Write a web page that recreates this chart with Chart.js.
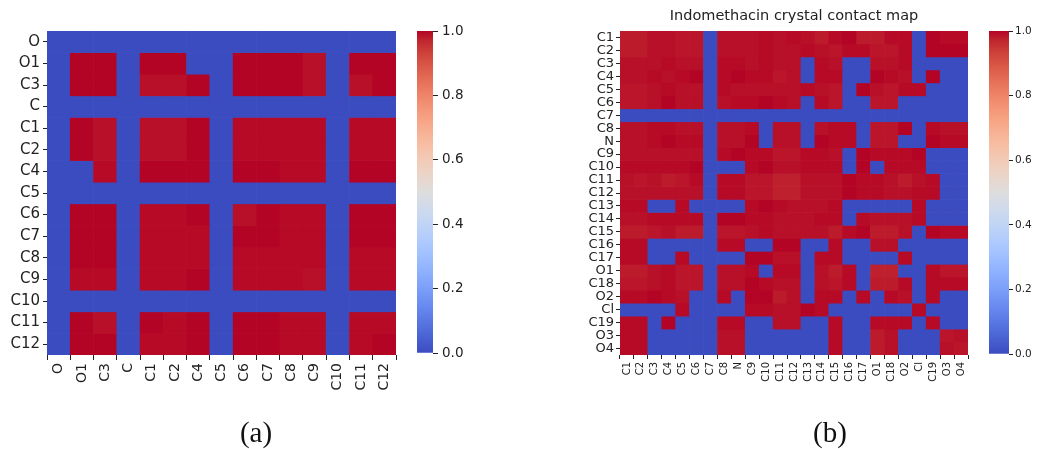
<!DOCTYPE html>
<html>
<head>
<meta charset="utf-8">
<script src="https://cdn.jsdelivr.net/npm/chart.js@4/dist/chart.umd.min.js"></script>
<style>
  html, body { margin: 0; padding: 0; background: #fff; }
  body { width: 1037px; height: 449px; overflow: hidden; position: relative; }
  canvas { position: absolute; }
  .cap { position: absolute; width: 80px; text-align: center; line-height: 1;
         font-family: "Liberation Serif", "DejaVu Serif", serif; font-size: 29px; color: #111; }
</style>
</head>
<body>
<canvas id="heatA" width="410" height="420" style="left:0;top:0"></canvas>
<canvas id="barA" width="60" height="370" style="left:417px;top:0"></canvas>
<canvas id="heatB" width="422" height="420" style="left:560px;top:0"></canvas>
<canvas id="barB" width="48" height="370" style="left:989px;top:0"></canvas>
<div class="cap" style="left:216px;top:418px">(a)</div>
<div class="cap" style="left:790px;top:418px">(b)</div>
<script>
// ---- atom labels (rows and columns share the same order) ----
const atomsA = ['O', 'O1', 'C3', 'C', 'C1', 'C2', 'C4', 'C5', 'C6', 'C7', 'C8', 'C9', 'C10', 'C11', 'C12'];
const atomsB = ['C1', 'C2', 'C3', 'C4', 'C5', 'C6', 'C7', 'C8', 'N', 'C9', 'C10', 'C11', 'C12',
                'C13', 'C14', 'C15', 'C16', 'C17', 'O1', 'C18', 'O2', 'Cl', 'C19', 'O3', 'O4'];

// ---- contact frequencies, one array per row ----
const contactA = [
  [0, 0, 0, 0, 0, 0, 0, 0, 0, 0, 0, 0, 0, 0, 0],
  [0, 1.0, 1.0, 0, 1.0, 1.0, 0, 0, 1.0, 1.0, 1.0, 0.99, 0, 1.0, 1.0],
  [0, 1.0, 1.0, 0, 0.99, 0.99, 1.0, 0, 1.0, 1.0, 1.0, 0.99, 0, 0.99, 1.0],
  [0, 0, 0, 0, 0, 0, 0, 0, 0, 0, 0, 0, 0, 0, 0],
  [0, 1.0, 0.99, 0, 0.99, 0.99, 1.0, 0, 0.995, 0.995, 0.995, 0.995, 0, 0.995, 0.995],
  [0, 1.0, 0.99, 0, 0.99, 0.99, 1.0, 0, 0.995, 0.995, 0.995, 0.995, 0, 0.995, 0.995],
  [0, 0, 0.995, 0, 1.0, 1.0, 1.0, 0, 1.0, 1.0, 0.995, 0.995, 0, 1.0, 1.0],
  [0, 0, 0, 0, 0, 0, 0, 0, 0, 0, 0, 0, 0, 0, 0],
  [0, 1.0, 1.0, 0, 0.995, 0.995, 1.0, 0, 0.99, 1.0, 0.995, 0.995, 0, 1.0, 1.0],
  [0, 1.0, 1.0, 0, 0.995, 0.995, 0.995, 0, 1.0, 1.0, 0.995, 0.995, 0, 1.0, 1.0],
  [0, 1.0, 1.0, 0, 0.995, 0.995, 0.995, 0, 0.995, 0.995, 0.995, 0.995, 0, 0.995, 0.995],
  [0, 0.995, 0.995, 0, 0.995, 0.995, 1.0, 0, 0.995, 0.995, 0.995, 0.99, 0, 0.995, 0.995],
  [0, 0, 0, 0, 0, 0, 0, 0, 0, 0, 0, 0, 0, 0, 0],
  [0, 1.0, 0.99, 0, 1.0, 0.995, 1.0, 0, 1.0, 1.0, 0.995, 0.995, 0, 0.995, 0.995],
  [0, 1.0, 1.0, 0, 0.995, 0.995, 1.0, 0, 1.0, 1.0, 0.995, 0.995, 0, 0.995, 1.0]
];

const contactB = [
  [.98,.98,.99,.99,.985,.985,0,.99,.99,.99,.995,.99,.995,.99,.98,.995,1,.98,.98,.995,.995,0,1,.995,.995],
  [.98,.98,.99,.99,.985,.985,0,.99,.99,.99,.995,.99,.99,.995,.99,.985,.995,.995,.985,.985,.995,0,1,1,1],
  [.99,.99,.99,.995,.99,.99,0,.995,.995,.99,.995,.99,.99,0,.995,.99,0,0,.99,.99,.995,0,0,0,0],
  [.99,.99,.995,.99,.995,1,0,.995,1,.995,.995,.985,.99,0,.995,.995,0,0,1,.995,.99,0,1,0,0],
  [.985,.985,.99,.995,.99,.99,0,.995,.99,.99,.99,.99,.99,.995,.99,.985,0,1,.99,.985,.995,.995,0,0,0],
  [.985,.985,.99,1,.99,.99,0,.99,.995,.995,1,.995,.99,0,.995,.985,0,0,.985,.985,0,0,0,0,0],
  [0,0,0,0,0,0,0,0,0,0,0,0,0,0,0,0,0,0,0,0,0,0,0,0,0],
  [.99,.99,.995,.995,.99,.99,0,.99,.99,.995,0,.99,.99,0,.99,.995,.995,0,.985,.985,1,0,.995,.99,.99],
  [.99,.99,.995,1,.995,.995,0,.99,.99,1,0,.99,.99,0,1,.995,.995,0,.985,.985,0,0,1,.995,.995],
  [.99,.99,.99,.99,.99,.99,0,.995,1,.995,.995,.985,.985,.995,.995,.99,0,1,.995,.995,.995,1,0,0,0],
  [.995,.995,.995,.995,.995,1,0,0,0,.995,1,.99,.99,.995,.995,.995,0,1,0,.995,.995,.995,0,0,0],
  [.99,.985,.99,.98,.985,.995,0,.995,.995,.985,.985,.975,.975,.99,.99,.99,1,.995,.995,.99,.98,.99,.995,0,0],
  [.99,.99,.99,.99,.99,.99,0,.995,.995,.985,.985,.975,.975,.99,.99,.99,1,.995,.995,.99,.99,.995,.995,0,0],
  [.995,.995,0,0,.995,0,0,0,0,.995,1,.995,.99,.99,.99,.995,0,0,0,0,0,.995,0,0,0],
  [.99,.99,.995,.995,.995,.995,0,1,1,.995,.995,.99,.99,.99,.995,.995,0,.995,.99,.99,.99,.995,0,0,0],
  [.98,.98,.985,.99,.98,.98,0,.985,.985,.99,.995,.99,.99,.99,.99,.98,.995,1,.98,.98,.99,0,1,.995,.995],
  [.995,.995,0,0,0,0,0,.995,.995,0,0,1,1,0,0,.995,0,0,.99,.99,0,0,0,0,0],
  [.995,.995,0,0,.995,0,0,0,0,1,1,.99,.99,0,.995,.995,0,0,0,0,.995,0,0,0,0],
  [.98,.98,.99,.995,.985,.985,0,.99,.99,.995,0,.995,.995,0,.99,.98,.995,0,.975,.975,0,0,.995,.985,.985],
  [.985,.985,.99,.995,.985,.985,0,.99,.99,1,.995,.99,.99,0,.99,.985,.995,0,.98,.98,.995,0,.995,.995,.995],
  [.995,.995,1,.995,.99,0,0,.995,0,1,1,.98,.99,0,.995,.995,0,.995,0,.995,.99,0,.995,0,0],
  [0,0,0,0,.995,0,0,0,0,.995,.995,.99,.99,1,.995,0,0,0,0,0,0,.995,0,0,0],
  [.995,.995,0,1,0,0,0,.995,.995,0,0,.99,.99,0,0,.995,0,0,.995,.995,.995,0,.995,0,0],
  [.995,.995,0,0,0,0,0,.99,.99,0,0,0,0,0,0,.995,0,0,.98,.99,0,0,0,.985,.99],
  [.995,.995,0,0,0,0,0,.99,.99,0,0,0,0,0,0,.995,0,0,.98,.99,0,0,0,.99,.985]
];

// colour bar tick values
const colorbarTicks = [0, 0.2, 0.4, 0.6, 0.8, 1.0];

// ---- coolwarm colour map (Moreland diverging) ----
const COOLWARM = [
  [59,76,192],[68,90,204],[77,104,215],[87,117,225],[98,130,234],[108,142,241],[119,154,247],
  [130,165,251],[141,176,254],[152,185,255],[163,194,255],[174,201,253],[184,208,249],
  [194,213,244],[204,217,238],[213,219,230],[221,221,221],[229,216,209],[236,211,197],
  [241,204,185],[245,196,173],[247,187,160],[247,177,148],[247,166,135],[244,154,123],
  [241,141,111],[236,127,99],[229,112,88],[222,96,77],[213,80,66],[203,62,56],[192,40,47],[180,4,38]
];
function coolwarm(v) {
  const t = Math.max(0, Math.min(1, v)) * (COOLWARM.length - 1);
  const i = Math.min(Math.floor(t), COOLWARM.length - 2);
  const f = t - i, a = COOLWARM[i], b = COOLWARM[i + 1];
  const c = a.map((x, k) => Math.round(x + (b[k] - x) * f));
  return `rgb(${c[0]},${c[1]},${c[2]})`;
}

const FONT = 'DejaVu Sans';
const INK = '#222';

function tickGrid(len) {
  return { display: true, drawOnChartArea: false, drawTicks: true, tickLength: len, tickColor: INK, tickWidth: 1 };
}

// One floating bar per cell: each row is a dataset spanning [row-0.5, row+0.5] on the value axis.
function heatmap(id, labels, values, o) {
  const datasets = values.map((row, i) => ({
    label: labels[i],
    data: row.map(() => [i - 0.5, i + 0.5]),
    backgroundColor: row.map(v => coolwarm(v)),
    borderWidth: 0,
    barPercentage: 1,
    categoryPercentage: 1,
    grouped: false
  }));
  return new Chart(document.getElementById(id), {
    type: 'bar',
    data: { labels, datasets },
    options: {
      responsive: false,
      animation: false,
      layout: { padding: { top: o.padTop, right: o.padRight, bottom: 0, left: 0 } },
      plugins: {
        legend: { display: false },
        tooltip: { enabled: false },
        title: o.title ? {
          display: true, text: o.title, fullSize: false, color: INK,
          font: { family: FONT, size: o.titleSize, weight: 'normal' },
          padding: { top: 8, bottom: 5.6 }
        } : { display: false }
      },
      scales: {
        x: {
          type: 'category',
          offset: true,
          border: { display: false },
          grid: tickGrid(o.xTick),
          ticks: { autoSkip: false, minRotation: 90, maxRotation: 90, padding: o.xPad, color: INK,
                   font: { family: FONT, size: o.xFont } },
          afterFit: s => { s.height = o.xHeight; }
        },
        y: {
          type: 'linear',
          reverse: true,
          min: -0.5,
          max: labels.length - 0.5,
          border: { display: false },
          grid: tickGrid(o.yTick),
          afterBuildTicks: s => { s.ticks = labels.map((_, i) => ({ value: i })); },
          ticks: { autoSkip: false, padding: o.yPad, color: INK,
                   font: { family: FONT, size: o.yFont },
                   callback: v => labels[v] },
          afterFit: s => { s.width = o.yWidth; }
        }
      }
    }
  });
}

function colorbar(id, o) {
  return new Chart(document.getElementById(id), {
    type: 'bar',
    data: {
      labels: [''],
      datasets: [{
        data: [[colorbarTicks[0], colorbarTicks[colorbarTicks.length - 1]]],
        borderWidth: 0,
        barPercentage: 1,
        categoryPercentage: 1,
        backgroundColor: ctx => {
          const chart = ctx.chart, y = chart.scales.y;
          if (!chart.chartArea || !y) return coolwarm(0.5);
          const g = chart.ctx.createLinearGradient(0, y.getPixelForValue(0), 0, y.getPixelForValue(1));
          COOLWARM.forEach((c, i) => g.addColorStop(i / (COOLWARM.length - 1), `rgb(${c[0]},${c[1]},${c[2]})`));
          return g;
        }
      }]
    },
    options: {
      responsive: false,
      animation: false,
      layout: { padding: { top: o.top, bottom: o.bottom, left: 0, right: 0 } },
      plugins: { legend: { display: false }, tooltip: { enabled: false } },
      scales: {
        x: { display: false },
        y: {
          position: 'right',
          min: 0, max: 1,
          border: { display: false },
          grid: tickGrid(o.tick),
          afterBuildTicks: s => { s.ticks = colorbarTicks.map(v => ({ value: v })); },
          ticks: { padding: o.pad, color: INK, font: { family: FONT, size: o.font },
                   callback: v => v.toFixed(1) },
          afterFit: s => { s.width = o.width; }
        }
      }
    }
  });
}

heatmap('heatA', atomsA, contactA, {
  padTop: 31, padRight: 14, xHeight: 65, yWidth: 47,
  xFont: 14, yFont: 15, xTick: 5, yTick: 4, xPad: 3, yPad: 3
});
colorbar('barA', { top: 31, bottom: 17, width: 44, tick: 5, pad: 4, font: 13.5 });

heatmap('heatB', atomsB, contactB, {
  padTop: 0, padRight: 14, xHeight: 65, yWidth: 60,
  xFont: 10, yFont: 13, xTick: 4, yTick: 4, xPad: 3, yPad: 2,
  title: 'Indomethacin crystal contact map', titleSize: 14.5
});
colorbar('barB', { top: 31, bottom: 16, width: 28, tick: 4, pad: 2, font: 10.5 });
</script>
</body>
</html>
